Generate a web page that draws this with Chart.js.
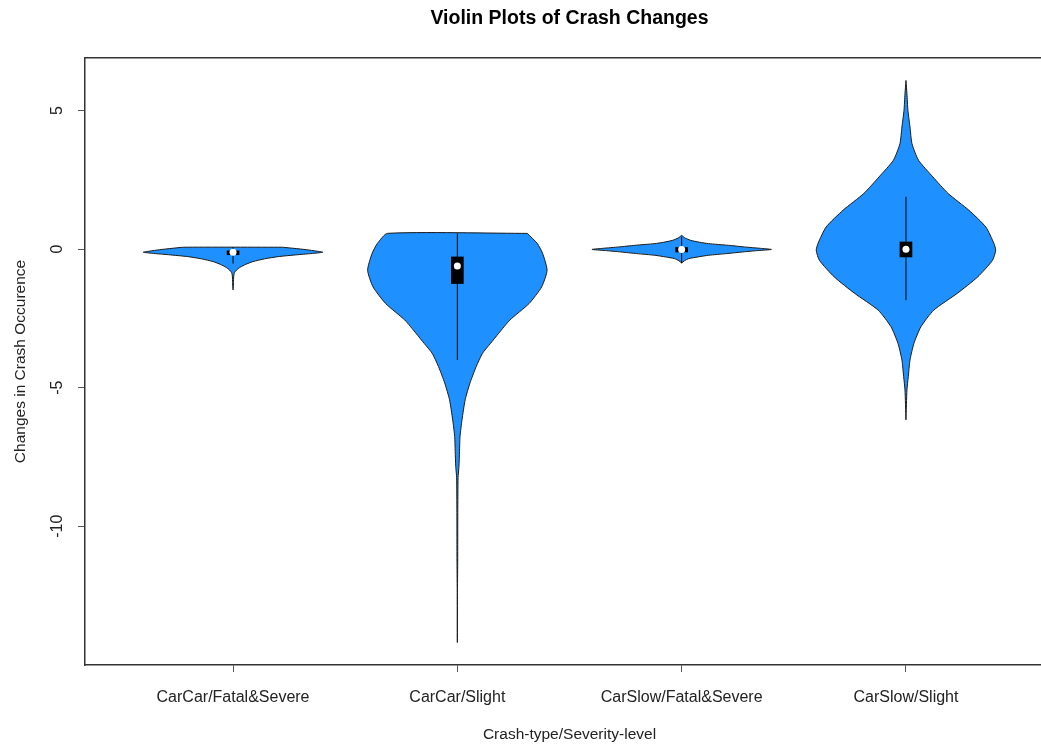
<!DOCTYPE html>
<html>
<head>
<meta charset="utf-8">
<title>Violin Plots of Crash Changes</title>
<script src="https://cdn.jsdelivr.net/npm/chart.js@4"></script>
<style>
    html, body { margin: 0; padding: 0; background: #fff; overflow: hidden; }
    #wrap { width: 1139px; height: 744px; }
</style>
</head>
<body>
<div id="wrap"><canvas id="grafico" width="1139" height="744"></canvas></div>
<script>
// Dados

const categorias = ['CarCar/Fatal&Severe', 'CarCar/Slight', 'CarSlow/Fatal&Severe', 'CarSlow/Slight']
const ticksY = [-10, -5, 0, 5]

// contorno de cada violino: valores em y e densidade relativa (1 = mais largo)
const violino1Y = [0.07, 0.03, -0.02, -0.07, -0.11, -0.15, -0.2, -0.27, -0.35, -0.45, -0.55, -0.65, -0.75, -0.85, -1.0, -1.2, -1.47]
const violino1D = [0.55, 0.68, 0.82, 0.93, 1.0, 0.9, 0.72, 0.5, 0.35, 0.22, 0.14, 0.08, 0.04, 0.015, 0.007, 0.005, 0]

const violino2Y = [0.57, 0.21, -0.15, -0.76, -1.36, -1.96, -2.56, -3.04, -3.4, -3.76, -4.24, -4.84, -5.44, -6.16, -6.76, -7.3, -7.84, -8.25, -9.5, -11.3, -12.5, -14.2]
const violino2D = [0.78, 0.89, 0.95, 1.0, 0.94, 0.8, 0.585, 0.46, 0.37, 0.28, 0.21, 0.14, 0.087, 0.052, 0.03, 0.024, 0.018, 0.008, 0.005, 0.004, 0.001, 0]

const violino3Y = [0.5, 0.45, 0.4, 0.32, 0.25, 0.2, 0.14, 0.08, 0.03, -0.01, -0.05, -0.1, -0.16, -0.22, -0.28, -0.34, -0.42, -0.5]
const violino3D = [0, 0.02, 0.04, 0.1, 0.2, 0.3, 0.52, 0.7, 0.88, 1.0, 0.85, 0.68, 0.5, 0.3, 0.18, 0.08, 0.03, 0]

const violino4Y = [6.09, 5.61, 5.01, 4.41, 3.81, 3.21, 2.61, 2.01, 1.41, 0.8, 0.21, -0.04, -0.4, -1.0, -1.6, -2.2, -2.8, -3.4, -4.0, -4.6, -5.08, -6.16]
const violino4D = [0, 0.011, 0.022, 0.045, 0.067, 0.14, 0.3, 0.47, 0.7, 0.89, 0.98, 1.0, 0.965, 0.8, 0.57, 0.31, 0.167, 0.089, 0.045, 0.026, 0.011, 0]

// boxplot interno
const medianas = [-0.11, -0.61, -0.01, 0.0]
const quartil1 = [-0.2, -1.24, -0.1, -0.28]
const quartil3 = [-0.06, -0.28, 0.06, 0.26]
const bigodeMin = [-0.52, -4.0, -0.5, -1.84]
const bigodeMax = [0.07, 0.57, 0.45, 1.89]

// Estilo

const azul = '#1E90FF'
const fonte = "'Liberation Sans', Arial, Helvetica, sans-serif"
const meiaLargura = 0.4

const violinos = [
    [violino1Y, violino1D],
    [violino2Y, violino2D],
    [violino3Y, violino3D],
    [violino4Y, violino4D]
]

// limites como no R (4% de folga)
let todosY = []
for(const v of violinos){
    todosY = todosY.concat(v[0])
}
const minY = Math.min(...todosY)
const maxY = Math.max(...todosY)
const folgaY = (maxY - minY) * 0.04
const folgaX = (categorias.length) * 0.04

// pontos do contorno: desce pela direita e sobe pela esquerda
function contorno(pos, ys, ds){
    const direita = ys.map((y, i) => ({x: pos + meiaLargura * ds[i], y: y}))
    const esquerda = ys.map((y, i) => ({x: pos - meiaLargura * ds[i], y: y})).reverse()
    const pontos = direita.concat(esquerda)
    pontos.push(pontos[0])
    return pontos
}

const datasets = []

for(let i = 0; i < violinos.length; i++){
    datasets.push({
        type: 'scatter',
        data: contorno(i + 1, violinos[i][0], violinos[i][1]),
        showLine: true,
        fill: 'shape',
        backgroundColor: azul,
        borderColor: '#1a1a1a',
        borderWidth: 1,
        pointRadius: 0,
        tension: 0.2,
        order: 4
    })

    datasets.push({
        type: 'scatter',
        data: [{x: i + 1, y: bigodeMin[i]}, {x: i + 1, y: bigodeMax[i]}],
        showLine: true,
        borderColor: '#000',
        borderWidth: 1,
        pointRadius: 0,
        order: 3
    })
}

datasets.push({
    type: 'bar',
    data: categorias.map((c, i) => ({x: i + 1, y: [quartil1[i], quartil3[i]]})),
    backgroundColor: '#000',
    barThickness: 12,
    order: 2
})

datasets.push({
    type: 'scatter',
    data: categorias.map((c, i) => ({x: i + 1, y: medianas[i]})),
    pointRadius: 3.5,
    pointBackgroundColor: '#fff',
    pointBorderWidth: 0,
    order: 1
})

const corEixo = '#333'

new Chart(document.getElementById('grafico'), {
    type: 'scatter',
    data: { datasets: datasets },
    options: {
        responsive: false,
        animation: false,
        devicePixelRatio: 1,
        layout: { padding: { left: 0, right: 85, top: 0, bottom: 0 } },
        plugins: {
            legend: { display: false },
            tooltip: { enabled: false },
            title: { display: false }
        },
        scales: {
            x: {
                type: 'linear',
                position: 'bottom',
                offset: false,
                min: 1 - 0.5 - folgaX,
                max: categorias.length + 0.5 + folgaX,
                afterBuildTicks: (s) => { s.ticks = categorias.map((c, i) => ({value: i + 1})) },
                afterFit: (s) => { s.height = 79 },
                grid: { offset: false, drawOnChartArea: false, drawTicks: true, tickLength: 7, color: '#555' },
                border: { display: true, color: corEixo, width: 1.5 },
                ticks: {
                    autoSkip: false,
                    maxRotation: 0,
                    padding: 16,
                    color: '#222',
                    font: { family: fonte, size: 16 },
                    callback: (v) => categorias[v - 1]
                },
                title: {
                    display: true,
                    text: 'Crash-type/Severity-level',
                    color: '#222',
                    font: { family: fonte, size: 15.5 },
                    padding: { top: 0, bottom: 0 }
                }
            },
            // eixo de cima: borda da caixa e titulo centrado na area do grafico
            x2: {
                type: 'linear',
                position: 'top',
                display: true,
                afterFit: (s) => { s.height = 58 },
                grid: { display: false },
                ticks: { display: false },
                border: { display: true, color: corEixo, width: 1.5 },
                title: {
                    display: true,
                    text: 'Violin Plots of Crash Changes',
                    color: '#000',
                    font: { family: fonte, size: 19.5, weight: 'bold' },
                    padding: { top: 7, bottom: 0 }
                }
            },
            y: {
                type: 'linear',
                min: minY - folgaY,
                max: maxY + folgaY,
                afterBuildTicks: (s) => { s.ticks = ticksY.map(v => ({value: v})) },
                afterFit: (s) => { s.width = 85 },
                grid: { drawOnChartArea: false, drawTicks: true, tickLength: 7, color: '#555' },
                border: { display: true, color: corEixo, width: 1.5 },
                ticks: {
                    minRotation: 90,
                    maxRotation: 90,
                    crossAlign: 'center',
                    padding: 9,
                    color: '#222',
                    font: { family: fonte, size: 16 }
                },
                title: {
                    display: true,
                    text: 'Changes in Crash Occurence',
                    color: '#222',
                    font: { family: fonte, size: 15.5 },
                    padding: { top: 11, bottom: 0 }
                }
            }
        }
    }
})
</script>
</body>
</html>
